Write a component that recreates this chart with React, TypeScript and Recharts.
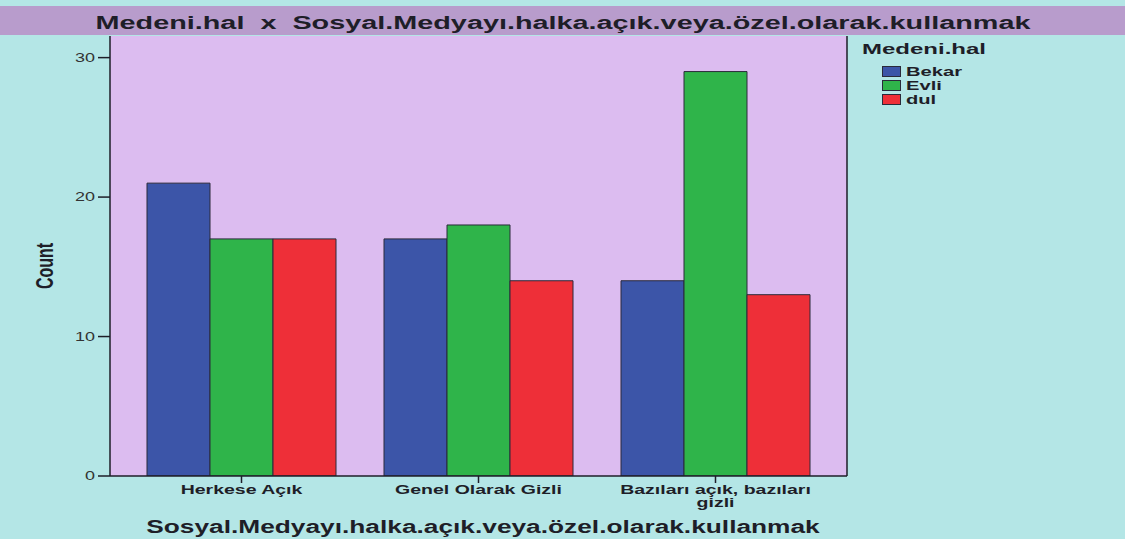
import React from 'react';
import { BarChart, Bar, XAxis, YAxis, CartesianGrid } from 'recharts';

const categories = ['Herkese Açık', 'Genel Olarak Gizli', 'Bazıları açık, bazıları gizli'];
const bekar = [21, 17, 14];
const evli = [17, 18, 29];
const dul = [17, 14, 13];
const yTicks = [0, 10, 20, 30];

const seriesList = [
  { key: 'bekar', label: 'Bekar', color: '#3c55a8' },
  { key: 'evli', label: 'Evli', color: '#2fb44a' },
  { key: 'dul', label: 'dul', color: '#ee2f38' },
];

const data = categories.map((name, i) => ({
  name,
  bekar: bekar[i],
  evli: evli[i],
  dul: dul[i],
}));

const FONT = '"Liberation Sans", Arial, sans-serif';
const INK = '#1e1e28';
// the reference image is stretched sideways, so its text is too
const STRETCH = 1.5;

function CategoryTick({ x, y, payload }: any) {
  const label: string = payload.value;
  const cut = label.lastIndexOf(' ');
  const lines = label.length > 20 ? [label.slice(0, cut), label.slice(cut + 1)] : [label];
  return (
    <g transform={`translate(${x},${y + 9}) scale(${STRETCH},1)`}>
      <text x={0} y={0} textAnchor="middle" fontFamily={FONT} fontWeight="bold" fontSize={13} fill={INK}>
        {lines.map((l, i) => (
          <tspan key={i} x={0} dy={i === 0 ? 0 : 13}>
            {l}
          </tspan>
        ))}
      </text>
    </g>
  );
}

function ValueTick({ x, y, payload }: any) {
  return (
    <g transform={`translate(${x},${y}) scale(${STRETCH},1)`}>
      <text x={0} y={0} dy={4} textAnchor="end" fontFamily={FONT} fontSize={12} fill="#333">
        {payload.value}
      </text>
    </g>
  );
}

export default function App() {
  return (
    <div
      style={{
        position: 'absolute',
        left: 0,
        top: 0,
        width: 1125,
        height: 543,
        background: '#b4e6e6',
        fontFamily: FONT,
        overflow: 'hidden',
      }}
    >
      <div
        style={{
          position: 'absolute',
          left: 0,
          top: 6,
          width: 1125,
          height: 29,
          background: '#b89ccc',
        }}
      />
      <div
        style={{
          position: 'absolute',
          left: 563,
          top: 9,
          transform: 'translateX(-50%) scaleX(1.6)',
          color: INK,
          fontSize: 18,
          fontWeight: 'bold',
          lineHeight: '29px',
          whiteSpace: 'pre',
        }}
      >
        {'Medeni.hal  x  Sosyal.Medyayı.halka.açık.veya.özel.olarak.kullanmak'}
      </div>

      <div style={{ position: 'absolute', left: 0, top: 0 }}>
        <BarChart
          width={1125}
          height={540}
          data={data}
          margin={{ top: 36, right: 277, left: 0, bottom: 34 }}
          barCategoryGap={24}
          barGap={0}
        >
          <CartesianGrid fill="#dcbcf0" horizontal={false} vertical={false} />
          <XAxis
            dataKey="name"
            height={30}
            interval={0}
            padding={{ left: 13, right: 13 }}
            tick={<CategoryTick />}
            tickSize={7}
            axisLine={{ stroke: INK, strokeWidth: 1.5 }}
            tickLine={{ stroke: INK, strokeWidth: 1.5 }}
          />
          <YAxis
            width={110}
            domain={[0, 31.55]}
            ticks={yTicks}
            allowDataOverflow
            tickSize={12}
            tickMargin={3}
            tick={<ValueTick />}
            axisLine={{ stroke: INK, strokeWidth: 1.5 }}
            tickLine={{ stroke: INK, strokeWidth: 1.5 }}
          />
          <YAxis
            yAxisId="edge"
            orientation="right"
            width={1}
            domain={[0, 1]}
            tick={false}
            tickLine={false}
            axisLine={{ stroke: INK, strokeWidth: 1.5 }}
          />
          {seriesList.map(s => (
            <Bar
              key={s.key}
              dataKey={s.key}
              fill={s.color}
              stroke="#2a2a3a"
              strokeWidth={1}
              isAnimationActive={false}
            />
          ))}
        </BarChart>
      </div>

      <div
        style={{
          position: 'absolute',
          left: 45,
          top: 266,
          transform: 'translate(-50%, -50%) rotate(-90deg) scaleY(1.5)',
          fontWeight: 'bold',
          fontSize: 16,
          lineHeight: '16px',
          color: INK,
          whiteSpace: 'nowrap',
        }}
      >
        Count
      </div>

      <div
        style={{
          position: 'absolute',
          left: 483,
          top: 515,
          transform: 'translateX(-50%) scaleX(1.46)',
          fontSize: 18,
          fontWeight: 'bold',
          color: INK,
          lineHeight: '24px',
          whiteSpace: 'nowrap',
        }}
      >
        Sosyal.Medyayı.halka.açık.veya.özel.olarak.kullanmak
      </div>

      <div
        style={{
          position: 'absolute',
          left: 862,
          top: 40,
          transform: 'scaleX(1.6)',
          transformOrigin: 'left center',
          fontSize: 15,
          fontWeight: 'bold',
          lineHeight: '18px',
          color: INK,
          whiteSpace: 'nowrap',
        }}
      >
        Medeni.hal
      </div>
      <div style={{ position: 'absolute', left: 882, top: 64, color: INK }}>
        {seriesList.map(s => (
          <div key={s.key} style={{ display: 'flex', alignItems: 'center', height: 14 }}>
            <span
              style={{
                display: 'inline-block',
                width: 17,
                height: 9,
                background: s.color,
                border: '1px solid #2a2a3a',
                marginRight: 5,
              }}
            />
            <span
              style={{
                display: 'inline-block',
                fontSize: 13,
                fontWeight: 'bold',
                transform: 'scaleX(1.55)',
                transformOrigin: 'left center',
              }}
            >
              {s.label}
            </span>
          </div>
        ))}
      </div>

      <div style={{ position: 'absolute', left: 0, top: 539, width: 1125, height: 4, background: '#fff' }} />
    </div>
  );
}
